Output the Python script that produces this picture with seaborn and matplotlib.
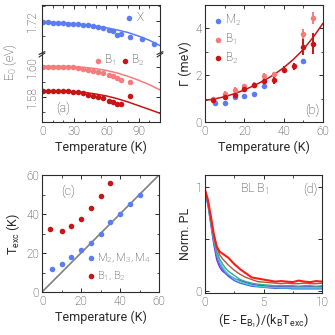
import matplotlib
matplotlib.use("Agg")
import matplotlib.pyplot as plt
import seaborn as sns

# ======================================
# Data
# ======================================

# (a) peak energies vs temperature
t_a = [1, 6, 10, 15, 20, 24, 29, 34, 38, 43, 48, 52, 57, 62, 66, 70, 74, 82, 93, 104]
e_x = [1.7191, 1.7191, 1.7189, 1.7187, 1.7185, 1.7183, 1.7180, 1.7178, 1.7176, 1.7173,
       1.7167, 1.7163, 1.7151, 1.7143, 1.7133, 1.7109, 1.7116, 1.7093, 1.7080, 1.7050]
t_b1 = [1, 6, 10, 15, 20, 24, 29, 34, 38, 43, 48, 52, 57, 62, 66, 70, 74, 82]
e_b1 = [1.5996, 1.5998, 1.6000, 1.6000, 1.6000, 1.6000, 1.5996, 1.5991, 1.5985, 1.5980,
        1.5974, 1.5967, 1.5958, 1.5945, 1.5936, 1.5923, 1.5911, 1.5900]
t_b2 = [1, 6, 10, 15, 20, 24, 29, 34, 38, 43, 48, 52, 57, 62, 66, 70, 74, 82]
e_b2 = [1.5838, 1.5838, 1.5838, 1.5838, 1.5838, 1.5836, 1.5834, 1.5829, 1.5823, 1.5814,
        1.5807, 1.5796, 1.5792, 1.5774, 1.5763, 1.5751, 1.5752, 1.5807]
t_fit_a = [0, 10, 20, 30, 40, 50, 60, 70, 80, 90, 100, 110]
fit_x = [1.7193, 1.7192, 1.7188, 1.7182, 1.7175, 1.7166, 1.7155, 1.7141, 1.7124, 1.7100, 1.7072, 1.7036]
fit_b1 = [1.6003, 1.6003, 1.6002, 1.6000, 1.5995, 1.5987, 1.5975, 1.5958, 1.5936, 1.5910, 1.5880, 1.5845]
fit_b2 = [1.5838, 1.5838, 1.5837, 1.5834, 1.5828, 1.5818, 1.5805, 1.5787, 1.5765, 1.5740, 1.5715, 1.5689]

# (b) linewidths
t_m2 = [5, 10, 15, 20, 25, 30, 50]
g_m2 = [0.80, 0.83, 1.05, 1.10, 1.18, 1.55, 2.60]
t_gb1 = [4, 10, 15, 20, 25, 30, 35, 50, 55]
g_b1 = [1.00, 1.21, 1.38, 1.52, 1.60, 1.98, 2.03, 3.77, 4.45]
err_b1 = [0.08, 0.10, 0.10, 0.10, 0.10, 0.10, 0.10, 0.22, 0.25]
t_gb2 = [4, 10, 15, 20, 25, 30, 35, 40, 45, 50, 55]
g_b2 = [0.92, 1.07, 1.14, 1.42, 1.56, 1.74, 1.78, 2.23, 2.38, 3.20, 3.34]
err_b2 = [0.10, 0.15, 0.15, 0.15, 0.12, 0.15, 0.15, 0.15, 0.15, 0.35, 0.45]
t_fit_b = [0, 5, 10, 15, 20, 25, 30, 35, 40, 45, 50, 55, 60]
fit_g = [0.92, 0.99, 1.08, 1.21, 1.37, 1.56, 1.77, 2.02, 2.32, 2.68, 3.10, 3.62, 4.22]

# (c) excitation temperature
t_cm = [5, 10, 15, 20, 25, 30, 35, 40, 45, 50]
texc_m = [11.8, 14.6, 18.0, 21.6, 25.0, 30.0, 36.0, 39.8, 44.9, 49.7]
t_cb = [4, 10, 15, 20, 25, 30, 35]
texc_b = [32.2, 31.2, 34.1, 37.4, 42.9, 49.2, 55.7]
diag = [0, 60]

# (d) normalised PL tails
xd = [0, 0.25, 0.5, 0.75, 1, 1.25, 1.5, 1.75, 2, 2.5, 3, 3.5, 4, 4.5, 5,
      5.5, 6, 6.5, 7, 7.5, 8, 8.5, 9, 9.5, 10]
pl_purple = [0.95, 0.83, 0.64, 0.45, 0.30, 0.23, 0.19, 0.17, 0.15, 0.12, 0.10, 0.08, 0.065, 0.055, 0.05,
             0.045, 0.045, 0.04, 0.04, 0.04, 0.04, 0.04, 0.04, 0.04, 0.04]
pl_blue = [0.96, 0.86, 0.67, 0.48, 0.34, 0.26, 0.21, 0.17, 0.14, 0.10, 0.075, 0.06, 0.045, 0.04, 0.035,
           0.03, 0.025, 0.025, 0.025, 0.02, 0.02, 0.02, 0.02, 0.02, 0.02]
pl_cyan = [0.95, 0.84, 0.66, 0.49, 0.36, 0.28, 0.23, 0.19, 0.16, 0.12, 0.09, 0.07, 0.055, 0.045, 0.04,
           0.035, 0.035, 0.03, 0.03, 0.03, 0.03, 0.03, 0.03, 0.03, 0.03]
pl_green = [0.96, 0.85, 0.68, 0.51, 0.38, 0.31, 0.26, 0.22, 0.19, 0.15, 0.11, 0.09, 0.075, 0.065, 0.06,
            0.055, 0.05, 0.05, 0.05, 0.05, 0.045, 0.05, 0.05, 0.045, 0.05]
pl_brown = [0.97, 0.86, 0.70, 0.54, 0.42, 0.35, 0.31, 0.28, 0.25, 0.20, 0.16, 0.13, 0.11, 0.09, 0.085,
            0.08, 0.075, 0.07, 0.075, 0.07, 0.07, 0.075, 0.07, 0.07, 0.075]
pl_red = [0.98, 0.88, 0.72, 0.55, 0.43, 0.38, 0.36, 0.34, 0.32, 0.26, 0.21, 0.17, 0.13, 0.12, 0.11,
          0.10, 0.09, 0.095, 0.09, 0.085, 0.10, 0.09, 0.085, 0.095, 0.09]
pl_curves = [pl_purple, pl_blue, pl_cyan, pl_green, pl_brown, pl_red]
pl_colors = ["#8a2be2", "#4a64e8", "#3cc8d8", "#3aa88a", "#b05a3c", "#ff1a1a"]

BLUE = "#5b7cf5"
PINK = "#f77b7b"
RED = "#c81414"
TXT = "#2b2b2b"

# ======================================
# Style
# ======================================

sns.set_style("ticks")
plt.rcParams["font.family"] = ["Roboto", "DejaVu Sans"]
plt.rcParams.update({
    "font.size": 8.5,
    "font.weight": "light",
    "text.color": TXT,
    "axes.labelcolor": TXT,
    "axes.edgecolor": TXT,
    "axes.linewidth": 0.8,
    "xtick.color": TXT,
    "ytick.color": TXT,
    "xtick.labelsize": 8.5,
    "ytick.labelsize": 8.5,
    "axes.labelsize": 9,
    "mathtext.default": "regular",
    "legend.fontsize": 8.5,
})

fig = plt.figure(figsize=(3.35, 3.35), dpi=100)
W = 335.0


def box(left, top, right, bottom):
    return [left / W, 1 - bottom / W, (right - left) / W, (bottom - top) / W]


def style_ticks(ax):
    ax.tick_params(which="both", direction="in", top=True, right=True)
    ax.tick_params(which="major", length=3, width=0.7, pad=2)
    ax.tick_params(which="minor", length=1.8, width=0.6)


ax_up = fig.add_axes(box(42, 5, 160, 53))
ax_lo = fig.add_axes(box(42, 55, 160, 122))
ax_b = fig.add_axes(box(205, 5, 323, 122))
ax_c = fig.add_axes(box(42, 175, 159, 292))
ax_d = fig.add_axes(box(205, 175, 322, 293))

ms = 16

# ---- (a) broken axis ----
sns.scatterplot(x=t_a, y=e_x, ax=ax_up, color=BLUE, s=ms, linewidth=0, label="X")
sns.lineplot(x=t_fit_a, y=fit_x, ax=ax_up, color=BLUE, lw=1.1)
sns.scatterplot(x=t_b1, y=e_b1, ax=ax_lo, color=PINK, s=ms, linewidth=0, label="B$_1$")
sns.scatterplot(x=t_b2, y=e_b2, ax=ax_lo, color=RED, s=ms, linewidth=0, label="B$_2$")
sns.lineplot(x=t_fit_a, y=fit_b1, ax=ax_lo, color=PINK, lw=1.1)
sns.lineplot(x=t_fit_a, y=fit_b2, ax=ax_lo, color=RED, lw=1.1)

for ax in (ax_up, ax_lo):
    ax.set_xlim(0, 110)
    style_ticks(ax)
    ax.set_xticks([0, 30, 60, 90])
    ax.set_xticks(range(0, 111, 10), minor=True)
    ax.tick_params(axis="y", labelrotation=90)
ax_up.set_ylim(1.6987, 1.7307)
ax_up.set_yticks([1.72])
ax_up.set_yticks([1.71, 1.72, 1.73], minor=True)
ax_up.set_yticklabels(["1.72"], va="center")
ax_up.spines["bottom"].set_visible(False)
ax_up.tick_params(which="both", bottom=False, labelbottom=False)
ax_lo.set_ylim(1.5631, 1.6078)
ax_lo.set_yticks([1.58, 1.60])
ax_lo.set_yticks([1.57, 1.58, 1.59, 1.60], minor=True)
ax_lo.set_yticklabels(["1.58", "1.60"], va="center")
ax_lo.spines["top"].set_visible(False)
ax_lo.tick_params(which="both", top=False)
ax_lo.set_xlabel("Temperature (K)", labelpad=2)
ax_up.set_ylabel("")
ax_lo.set_ylabel("")
fig.text(10 / W, 1 - 62 / W, "E$_0$ (eV)", rotation=90, ha="center", va="center", fontsize=9)

# break marks
for ax, yy in ((ax_up, 0.0), (ax_lo, 1.0)):
    for xx in (0.0, 1.0):
        ax.plot([xx - 0.025, xx + 0.025], [yy - 0.03, yy + 0.03], transform=ax.transAxes,
                color=TXT, lw=0.8, clip_on=False)

ax_up.legend(loc="upper right", bbox_to_anchor=(0.86, 0.88), frameon=False, handletextpad=0.1,
             borderpad=0.0, handlelength=1.0, borderaxespad=0.0)
ax_lo.legend(loc="upper right", bbox_to_anchor=(0.87, 1.03), frameon=False, ncol=2,
             handletextpad=0.0, columnspacing=0.3, handlelength=1.0, borderaxespad=0.0,
             borderpad=0.0)
ax_lo.text(0.12, 0.2, "(a)", transform=ax_lo.transAxes, fontsize=9, va="center")

# ---- (b) linewidths ----
ax_b.errorbar(t_gb1, g_b1, yerr=err_b1, fmt="none", ecolor=PINK, elinewidth=1.4, capsize=0)
ax_b.errorbar(t_gb2, g_b2, yerr=err_b2, fmt="none", ecolor=RED, elinewidth=1.4, capsize=0)
sns.scatterplot(x=t_m2, y=g_m2, ax=ax_b, color=BLUE, s=ms, linewidth=0, label="M$_2$", zorder=3)
sns.scatterplot(x=t_gb1, y=g_b1, ax=ax_b, color=PINK, s=ms, linewidth=0, label="B$_1$", zorder=3)
sns.scatterplot(x=t_gb2, y=g_b2, ax=ax_b, color=RED, s=ms, linewidth=0, label="B$_2$", zorder=4)
sns.lineplot(x=t_fit_b, y=fit_g, ax=ax_b, color=RED, lw=1.1)
ax_b.set_xlim(0, 60)
ax_b.set_ylim(0, 5)
ax_b.set_xticks([0, 20, 40, 60])
ax_b.set_xticks(range(0, 61, 10), minor=True)
ax_b.set_yticks([0, 2, 4])
ax_b.set_yticks([0, 1, 2, 3, 4, 5], minor=True)
style_ticks(ax_b)
ax_b.set_xlabel("Temperature (K)", labelpad=2)
ax_b.set_ylabel("Γ (meV)", labelpad=3)
ax_b.legend(loc="upper left", bbox_to_anchor=(0.06, 0.93), frameon=False, handletextpad=0.1,
            handlelength=1.0, labelspacing=0.3, borderaxespad=0.0, borderpad=0.0)
ax_b.text(0.97, 0.1, "(b)", transform=ax_b.transAxes, ha="right", fontsize=9, va="center")

# ---- (c) excitation temperature ----
sns.lineplot(x=diag, y=diag, ax=ax_c, color="#808080", lw=1.2)
sns.scatterplot(x=t_cm, y=texc_m, ax=ax_c, color=BLUE, s=ms, linewidth=0,
                label="M$_2$, M$_3$, M$_4$", zorder=3)
sns.scatterplot(x=t_cb, y=texc_b, ax=ax_c, color=RED, s=ms, linewidth=0,
                label="B$_1$, B$_2$", zorder=3)
ax_c.set_xlim(0, 60)
ax_c.set_ylim(0, 60)
ax_c.set_xticks([0, 20, 40, 60])
ax_c.set_yticks([0, 20, 40, 60])
ax_c.set_xticks(range(0, 61, 10), minor=True)
ax_c.set_yticks(range(0, 61, 10), minor=True)
style_ticks(ax_c)
ax_c.set_xlabel("Temperature (K)", labelpad=2)
ax_c.set_ylabel("T$_{exc}$ (K)", labelpad=3)
ax_c.legend(loc="lower left", bbox_to_anchor=(0.37, 0.08), frameon=False, handletextpad=0.05,
            handlelength=1.0, labelspacing=0.35, borderaxespad=0.0, borderpad=0.0, fontsize=8)
ax_c.text(0.16, 0.86, "(c)", transform=ax_c.transAxes, fontsize=9, va="center")

# ---- (d) normalised PL ----
for vals, col in zip(pl_curves, pl_colors):
    sns.lineplot(x=xd, y=vals, ax=ax_d, color=col, lw=1.5 if col == "#ff1a1a" else 1.0)
ax_d.set_xlim(0, 10)
ax_d.set_ylim(-0.02, 1.12)
ax_d.set_xticks([0, 5, 10])
ax_d.set_xticks([0, 2.5, 5, 7.5, 10], minor=True)
ax_d.set_yticks([0, 0.5, 1])
ax_d.set_yticklabels(["0", "", "1"])
style_ticks(ax_d)
ax_d.set_xlabel("(E - E$_{B_1}$)/(k$_B$T$_{exc}$)", labelpad=2)
ax_d.set_ylabel("Norm. PL", labelpad=3)
ax_d.text(0.3, 0.88, "BL B$_1$", transform=ax_d.transAxes, fontsize=9, va="center")
ax_d.text(0.96, 0.88, "(d)", transform=ax_d.transAxes, ha="right", fontsize=9, va="center")

fig.savefig("out.png", dpi=100)
